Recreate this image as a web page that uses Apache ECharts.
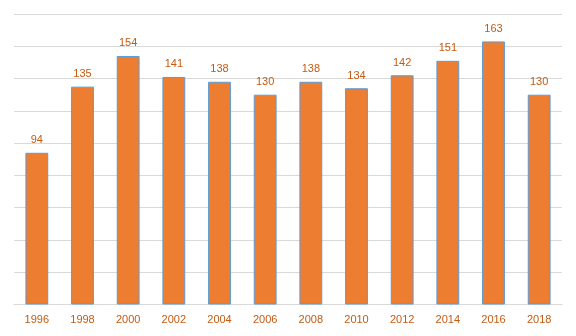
<!DOCTYPE html>
<html><head><meta charset="utf-8">
<script src="https://cdn.jsdelivr.net/npm/echarts@6/dist/echarts.min.js"></script>
<style>html,body{margin:0;padding:0;background:#fff}#c{width:576px;height:336px}</style>
</head><body><div id="c"></div>
<script>
const years = ['1996','1998','2000','2002','2004','2006','2008','2010','2012','2014','2016','2018'];
const values = [94,135,154,141,138,130,138,134,142,151,163,130];
const chart = echarts.init(document.getElementById('c'));
chart.setOption({
  animation:false,
  grid:{left:14,right:14,top:14,bottom:31.5},
  xAxis:{type:'category',data:years,
    axisLine:{lineStyle:{color:'#D9D9D9'}},axisTick:{show:false},
    axisLabel:{color:'#C55A11',fontFamily:'Liberation Sans',fontSize:11,margin:10}},
  yAxis:{type:'value',min:0,max:180,interval:20,
    axisLabel:{show:false},axisLine:{show:false},axisTick:{show:false},
    splitLine:{lineStyle:{color:'#D9D9D9',width:1}}},
  series:[{type:'bar',data:values,barWidth:'50%',
    itemStyle:{color:'#ED7D31',borderColor:'#5B9BD5',borderWidth:1},
    label:{show:true,position:'top',distance:7,color:'#C55A11',fontFamily:'Liberation Sans',fontSize:11}}]
});
</script></body></html>
